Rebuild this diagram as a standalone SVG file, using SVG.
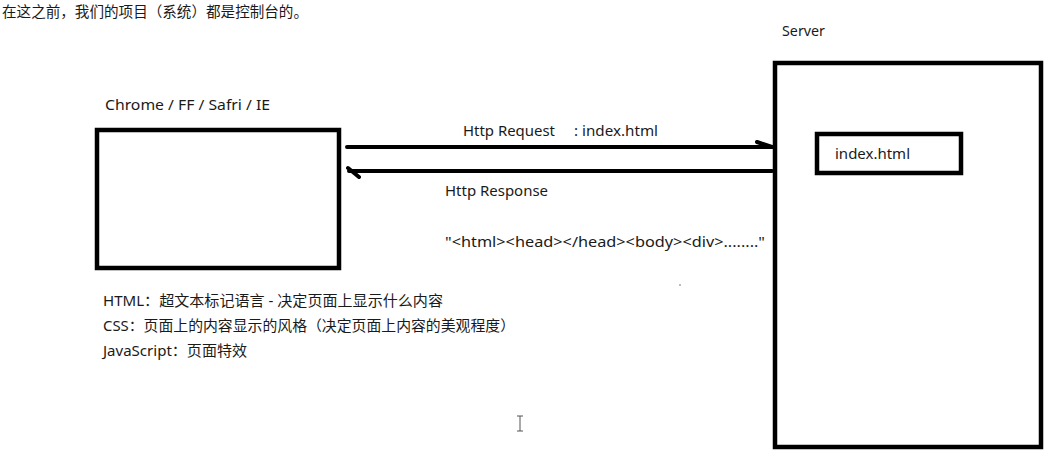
<svg xmlns="http://www.w3.org/2000/svg" width="1058" height="456" viewBox="0 0 1058 456">
<style>
.t{font-family:"Noto Sans","Noto Sans CJK SC",sans-serif;font-size:14.5px;fill:#1a1a1a}
.box{fill:none;stroke:#000;stroke-width:4.5}
.ln{fill:none;stroke:#000;stroke-width:4;stroke-linecap:round}
</style>
<rect width="1058" height="456" fill="#fff"/>
<text class="t" x="2" y="17" textLength="306" lengthAdjust="spacingAndGlyphs">在这之前，我们的项目（系统）都是控制台的。</text>
<g id="browser">
<text class="t" x="105" y="110" textLength="165" lengthAdjust="spacingAndGlyphs">Chrome / FF / Safri / IE</text>
<rect class="box" x="97" y="130" width="242" height="138"/>
</g>
<g id="server">
<text class="t" x="782" y="36" textLength="43" lengthAdjust="spacingAndGlyphs">Server</text>
<rect class="box" x="775" y="63" width="266" height="384"/>
</g>
<g id="index">
<rect class="box" x="817" y="134" width="144" height="39"/>
<text class="t" x="835" y="159" textLength="75" lengthAdjust="spacingAndGlyphs">index.html</text>
</g>
<g id="connectors">
<path class="ln" d="M347 147 H774 M757 142 L772 147"/>
<path class="ln" d="M772 171 H349 M348 168 L359 177"/>
<text class="t" x="463" y="136" textLength="92" lengthAdjust="spacingAndGlyphs">Http Request</text>
<text class="t" x="574" y="136" textLength="84" lengthAdjust="spacingAndGlyphs">: index.html</text>
<text class="t" x="445" y="196" textLength="103" lengthAdjust="spacingAndGlyphs">Http Response</text>
<text class="t" x="445" y="247" textLength="320" lengthAdjust="spacingAndGlyphs">"&lt;html&gt;&lt;head&gt;&lt;/head&gt;&lt;body&gt;&lt;div&gt;........"</text>
</g>
<g id="notes">
<text class="t" x="103" y="306" textLength="340" lengthAdjust="spacingAndGlyphs">HTML：超文本标记语言 - 决定页面上显示什么内容</text>
<text class="t" x="103" y="331" textLength="412" lengthAdjust="spacingAndGlyphs">CSS：页面上的内容显示的风格（决定页面上内容的美观程度）</text>
<text class="t" x="103" y="356" textLength="144" lengthAdjust="spacingAndGlyphs">JavaScript：页面特效</text>
</g>
<path d="M517 416 H523 M520 416 V431 M517 431 H523" fill="none" stroke="#555" stroke-width="1"/>
<circle cx="680" cy="285" r="0.8" fill="#666"/>
</svg>
